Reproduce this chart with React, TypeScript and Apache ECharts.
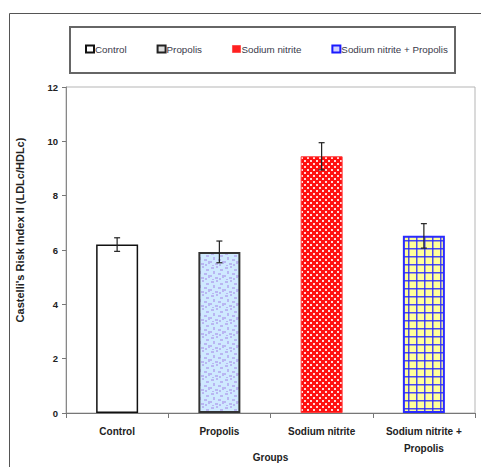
import React, { useEffect, useRef } from "react";
import * as echarts from "echarts";

const groups = ["Control", "Propolis", "Sodium nitrite", "Sodium nitrite +\nPropolis"];
const seriesNames = ["Control", "Propolis", "Sodium nitrite", "Sodium nitrite + Propolis"];
const means = [6.2, 5.93, 9.45, 6.52];
const errors = [0.25, 0.4, 0.5, 0.45];
const yTicks = { min: 0, max: 12, interval: 2 };

const FONT = "'Liberation Sans', Arial, sans-serif";

// light blue texture with lavender flecks (fixed fleck layout)
const flecks: [number, number, number, number][] = [
  [1, 1, 3, 2], [6, 0, 2, 2], [10, 3, 3, 2], [3, 5, 2, 3], [8, 7, 3, 2],
  [0, 9, 2, 2], [12, 9, 2, 3], [5, 11, 3, 2], [9, 12, 2, 2], [2, 13, 2, 1],
];

function makeTile(w: number, h: number, draw: (c: CanvasRenderingContext2D) => void) {
  const cv = document.createElement("canvas");
  cv.width = w;
  cv.height = h;
  const ctx = cv.getContext("2d")!;
  draw(ctx);
  return cv;
}

export default function App() {
  const ref = useRef<HTMLDivElement>(null);

  useEffect(() => {
    if (!ref.current) return;
    const chart = echarts.init(ref.current, null, { renderer: "svg" });

    const propolisTile = makeTile(14, 14, (c) => {
      c.fillStyle = "#cfe9ff";
      c.fillRect(0, 0, 14, 14);
      c.fillStyle = "#b9b6f2";
      flecks.forEach(([x, y, w, h]) => c.fillRect(x, y, w, h));
    });
    const nitriteTile = makeTile(6, 6, (c) => {
      c.fillStyle = "#ff1010";
      c.fillRect(0, 0, 6, 6);
      c.fillStyle = "#ffd8d8";
      c.fillRect(1, 1, 2, 2);
      c.fillRect(4, 4, 2, 2);
    });
    const gridTile = makeTile(8, 8, (c) => {
      c.fillStyle = "#ffff99";
      c.fillRect(0, 0, 8, 8);
      c.fillStyle = "rgba(40,40,255,0.85)";
      c.fillRect(0, 0, 8, 1.5);
      c.fillRect(0, 0, 1.5, 8);
    });

    const fills: any[] = [
      { color: "#ffffff", borderColor: "#111", borderWidth: 1.5 },
      { color: { image: propolisTile, repeat: "repeat" }, borderColor: "#333", borderWidth: 2 },
      { color: { image: nitriteTile, repeat: "repeat" }, borderColor: "#ff3a3a", borderWidth: 1 },
      { color: { image: gridTile, repeat: "repeat" }, borderColor: "#2a2aff", borderWidth: 2 },
    ];
    const legendIcons: any[] = [
      { color: "#ffffff", borderColor: "#111", borderWidth: 2 },
      { color: "#dddddd", borderColor: "#222", borderWidth: 2 },
      { color: "#ff2020", borderColor: "#ff5050", borderWidth: 1 },
      { color: "#d0d0ff", borderColor: "#1a1aff", borderWidth: 2 },
    ];

    const barSeries = seriesNames.map((name, i) => ({
      name,
      type: "bar",
      barWidth: 42,
      barGap: "-100%",
      data: means.map((v, j) => (j === i ? v : "-")),
      itemStyle: fills[i],
      z: 2,
    }));

    const errData = means.map((m, i) => [i, m - errors[i], m + errors[i]]);

    chart.setOption({
      animation: false,
      backgroundColor: "#ffffff",
      textStyle: { fontFamily: FONT },
      grid: {
        left: 66,
        right: 6,
        top: 87,
        bottom: 54,
        outerBoundsMode: "none",
        containLabel: false,
        show: true,
        borderColor: "#b5b5b5",
        borderWidth: 1,
      },
      legend: {
        left: 85,
        top: 44,
        padding: 0,
        itemWidth: 8,
        itemHeight: 7,
        itemGap: 30,
        icon: "rect",
        textStyle: {
          fontSize: 9.8,
          color: "#3a3a4a",
          fontFamily: FONT,
          padding: [0, 0, 0, -4],
        },
        data: seriesNames.map((name, i) => ({ name, itemStyle: legendIcons[i] })),
      },
      xAxis: {
        type: "category",
        data: groups,
        name: "Groups",
        nameLocation: "middle",
        nameGap: 39,
        nameMoveOverlap: false,
        nameTextStyle: { fontSize: 10, fontWeight: "bold", color: "#222", fontFamily: FONT },
        axisLine: { lineStyle: { color: "#777", width: 1 } },
        axisTick: { show: true, interval: 0, length: 5, lineStyle: { color: "#777" } },
        axisLabel: {
          interval: 0,
          margin: 10,
          fontSize: 10,
          lineHeight: 17,
          fontWeight: "bold",
          color: "#222",
          fontFamily: FONT,
        },
      },
      yAxis: {
        type: "value",
        min: yTicks.min,
        max: yTicks.max,
        interval: yTicks.interval,
        splitLine: { show: false },
        axisLine: { show: true, lineStyle: { color: "#888", width: 1 } },
        axisTick: { show: true, length: 4, lineStyle: { color: "#777" } },
        axisLabel: {
          margin: 8,
          fontSize: 9.5,
          fontWeight: "bold",
          color: "#222",
          fontFamily: FONT,
        },
      },
      graphic: [
        {
          type: "rect",
          shape: { x: 9.5, y: 13.5, width: 600, height: 600 },
          style: { fill: "none", stroke: "#555", lineWidth: 1 },
          silent: true,
        },
        {
          type: "rect",
          shape: { x: 70, y: 27, width: 385, height: 46 },
          style: { fill: "none", stroke: "#666", lineWidth: 2 },
          silent: true,
        },
        {
          type: "text",
          x: 20,
          y: 230,
          rotation: Math.PI / 2,
          style: {
            text: "Castelli's Risk Index II (LDLc/HDLc)",
            fontSize: 11,
            fontWeight: "bold",
            fontFamily: FONT,
            fill: "#222",
            align: "center",
            verticalAlign: "middle",
          },
        },
      ],
      series: [
        ...barSeries,
        {
          name: "error",
          type: "custom",
          data: errData,
          z: 5,
          renderItem: (params: any, api: any) => {
            const x = api.value(0);
            const lo = api.coord([x, api.value(1)]);
            const hi = api.coord([x, api.value(2)]);
            const cap = 3;
            const st = { stroke: "#222", lineWidth: 1.2 };
            return {
              type: "group",
              children: [
                { type: "line", shape: { x1: lo[0], y1: lo[1], x2: hi[0], y2: hi[1] }, style: st },
                { type: "line", shape: { x1: hi[0] - cap, y1: hi[1], x2: hi[0] + cap, y2: hi[1] }, style: st },
                { type: "line", shape: { x1: lo[0] - cap, y1: lo[1], x2: lo[0] + cap, y2: lo[1] }, style: st },
              ],
            };
          },
        },
      ],
    });

    return () => chart.dispose();
  }, []);

  return <div ref={ref} style={{ width: 481, height: 467, position: "absolute", left: 0, top: 0 }} />;
}
